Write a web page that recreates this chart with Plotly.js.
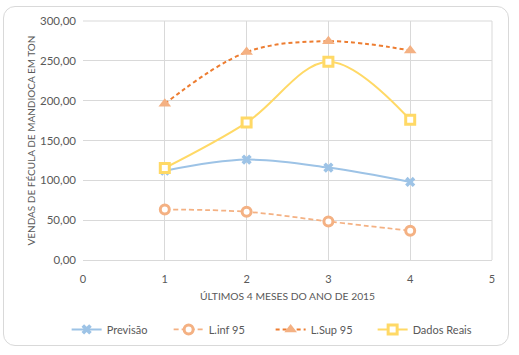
<!DOCTYPE html>
<html><head><meta charset="utf-8">
<script src="https://cdn.plot.ly/plotly-3.0.1.min.js"></script>
<style>
html,body{margin:0;padding:0;background:#fff;}
#frame{position:absolute;left:3px;top:6px;width:506px;height:340px;border:1px solid #d9d9d9;border-radius:12px;box-sizing:border-box;}
#chart{position:absolute;left:0;top:0;width:519px;height:355px;}
</style></head>
<body>
<div id="frame"></div>
<div id="chart"></div>
<script>
const months = [1, 2, 3, 4];
const previsao = [112, 126, 116, 98];
const linf = [63.4, 60.5, 48.4, 36.7];
const lsup = [196, 261, 274.6, 263];
const dadosReais = [115.5, 172.5, 249, 176];
const xTicks = [0, 1, 2, 3, 4, 5];
const font = "Lato, 'Open Sans', sans-serif";

const traces = [
  {x: months, y: previsao, name: 'Previsão', mode: 'lines+markers', type: 'scatter',
   line: {color: '#9DC3E6', width: 2, shape: 'spline'},
   marker: {symbol: 'x', size: 9, color: '#9DC3E6'}},
  {x: months, y: linf, name: 'L.inf 95', mode: 'lines+markers', type: 'scatter',
   line: {color: '#F4B183', width: 1.75, dash: '5px,3px', shape: 'spline'},
   marker: {symbol: 'circle', size: 9, color: '#ffffff', line: {color: '#F4B183', width: 3}}},
  {x: months, y: lsup, name: 'L.Sup 95', mode: 'lines+markers', type: 'scatter',
   line: {color: '#ED7D31', width: 2, dash: '4px,3px', shape: 'spline'},
   marker: {symbol: 'triangle-up', size: 11, color: '#F4B183'}},
  {x: months, y: dadosReais, name: 'Dados Reais', mode: 'lines+markers', type: 'scatter',
   line: {color: '#FFD966', width: 2, shape: 'spline'},
   marker: {symbol: 'square', size: 9, color: '#ffffff', line: {color: '#FFD966', width: 3}}}
];

const layout = {
  width: 519, height: 355,
  paper_bgcolor: 'rgba(0,0,0,0)', plot_bgcolor: 'rgba(0,0,0,0)',
  margin: {l: 83, r: 27, t: 21, b: 94},
  separators: ',.',
  font: {family: font, color: '#595959', size: 11},
  showlegend: true,
  legend: {orientation: 'h', x: -0.04, xanchor: 'left', y: -0.285, yanchor: 'middle',
           entrywidth: 57, entrywidthmode: 'pixels',
           font: {size: 11, color: '#595959'}},
  xaxis: {range: [0, 5], tickvals: xTicks, ticktext: xTicks.map(String), automargin: false,
          showgrid: true, gridcolor: '#d9d9d9', zeroline: false,
          showline: true, linecolor: '#d9d9d9', ticks: '', ticklabelstandoff: 9,
          tickfont: {size: 11, color: '#595959'},
          title: {text: 'ÚLTIMOS 4 MESES DO ANO DE 2015', font: {size: 10.3, color: '#595959'}, standoff: 8}},
  yaxis: {range: [0, 300], dtick: 50, tickformat: '.2f', automargin: false,
          showgrid: true, gridcolor: '#d9d9d9', zeroline: false,
          showline: false, ticks: '', ticklabelstandoff: 6,
          tickfont: {size: 11.5, color: '#595959'},
          title: {text: 'VENDAS DE FÉCULA DE MANDIOCA EM TON', font: {size: 10, color: '#595959'}, standoff: 2}},
  shapes: [
    {type: 'line', xref: 'paper', yref: 'paper', x0: 1, x1: 1, y0: 0, y1: 1, line: {color: '#d9d9d9', width: 1}},
    {type: 'line', xref: 'paper', yref: 'paper', x0: 0, x1: 1, y0: 1, y1: 1, line: {color: '#d9d9d9', width: 1}}
  ]
};

Plotly.newPlot('chart', traces, layout, {displayModeBar: false, staticPlot: true});
</script>
</body></html>
